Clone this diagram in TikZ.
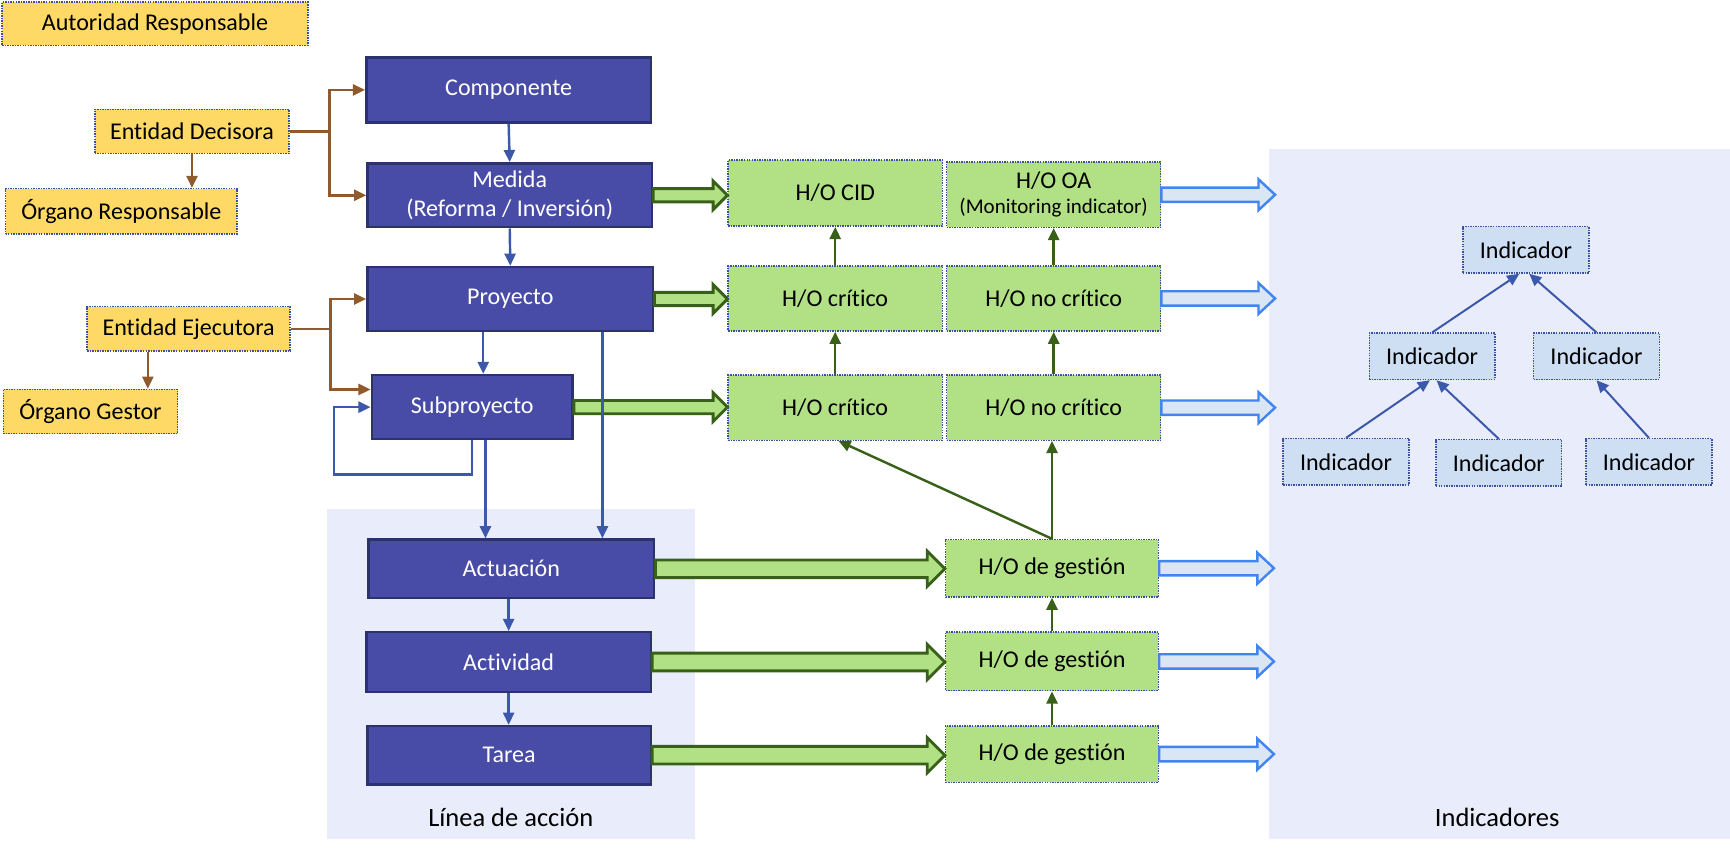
\documentclass[tikz,border=0pt]{standalone}
\usepackage{fontspec}
\setmainfont{Carlito}[Ligatures=NoCommon]
\usetikzlibrary{calc,arrows.meta}
\definecolor{boxblue}{RGB}{73,76,166}
\definecolor{boxblueedge}{RGB}{44,50,110}
\definecolor{linkblue}{RGB}{60,88,170}
\definecolor{dotblue}{RGB}{60,80,160}
\definecolor{yellowfill}{RGB}{255,217,102}
\definecolor{greenfill}{RGB}{178,224,132}
\definecolor{darkgreen}{RGB}{56,96,25}
\definecolor{brownline}{RGB}{145,90,45}
\definecolor{panelfill}{RGB}{233,236,250}
\definecolor{indfill}{RGB}{206,223,244}
\definecolor{fatbluefill}{RGB}{218,230,244}
\definecolor{fatblueedge}{RGB}{66,133,240}
\newcommand\fatarrow[6]{%
  \path (#2) coordinate (fas) (#3) coordinate (fae);
  \draw[#1] ($(fas)+(0,-#4)$) -- ($(fae)+(-#6,-#4)$) -- ($(fae)+(-#6,-#5)$) -- (fae)
    -- ($(fae)+(-#6,#5)$) -- ($(fae)+(-#6,#4)$) -- ($(fas)+(0,#4)$) -- cycle;}
\begin{document}
\begin{tikzpicture}[x=1pt,y=-1pt,
  every node/.style={font=\fontsize{21.8}{26}\selectfont, inner sep=0pt, align=center},
  yelbox/.style={draw=dotblue, densely dotted, line width=1.3pt, fill=yellowfill},
  darkbox/.style={draw=boxblueedge, line width=2.2pt, fill=boxblue, text=white},
  grbox/.style={draw=dotblue, densely dotted, line width=1.3pt, fill=greenfill, minimum width=194pt},
  indbox/.style={draw=dotblue, densely dotted, line width=1.3pt, fill=indfill, minimum width=114pt, minimum height=42pt},
  blink/.style={draw=linkblue, line width=2.2pt, -{Triangle[length=11pt,width=10pt]}},
  brlink/.style={draw=brownline, line width=2.2pt, -{Triangle[length=11pt,width=10pt]}},
  grlink/.style={draw=darkgreen, line width=2.2pt, -{Triangle[length=11pt,width=10pt]}},
  indlink/.style={draw=linkblue, line width=1.8pt, -{Triangle[length=11pt,width=10pt]}},
  fatgreen/.style={draw=darkgreen, line width=2.6pt, fill=greenfill, line join=miter},
  fatblue/.style={draw=fatblueedge, line width=2.2pt, fill=fatbluefill, line join=miter},
  paneltext/.style={font=\fontsize{24}{28}\selectfont}
]
\useasboundingbox (0,0) rectangle (1568,770);
% panels
\fill[panelfill] (296,461) rectangle (630,760);
\fill[panelfill] (1150,135) rectangle (1568,760);
\node[paneltext] (lineaLbl) at (463,741) {Línea de acción};
\node[paneltext] (indLbl) at (1357,741) {Indicadores};

% yellow boxes
\node[yelbox, minimum width=277pt, minimum height=39pt] (autoridad) at (140.5,21.5) {Autoridad Responsable};
\node[yelbox, minimum width=176pt, minimum height=40pt] (decisora) at (174,119) {Entidad Decisora};
\node[yelbox, minimum width=210pt, minimum height=41pt] (orgresp) at (110,191.5) {Órgano Responsable};
\node[yelbox, minimum width=184pt, minimum height=40pt] (ejecutora) at (171,298) {Entidad Ejecutora};
\node[yelbox, minimum width=158pt, minimum height=40pt] (orggestor) at (82,373) {Órgano Gestor};

% dark boxes
\node[darkbox, minimum width=258pt, minimum height=59pt] (componente) at (461,81.5) {Componente};
\node[darkbox, minimum width=258pt, minimum height=58pt] (medida) at (462,177) {Medida\\[1pt](Reforma / Inversión)};
\node[darkbox, minimum width=259pt, minimum height=58pt] (proyecto) at (462.5,271) {Proyecto};
\node[darkbox, minimum width=182pt, minimum height=58pt] (subproyecto) at (428,369) {Subproyecto};
\node[darkbox, minimum width=259pt, minimum height=53pt] (actuacion) at (463.5,515.5) {Actuación};
\node[darkbox, minimum width=258pt, minimum height=54pt] (actividad) at (461,600) {Actividad};
\node[darkbox, minimum width=257pt, minimum height=53pt] (tarea) at (461.5,684.5) {Tarea};

% green boxes
\node[grbox, minimum height=60pt] (cid) at (757,175) {H/O CID};
\node[grbox, minimum height=59pt] (oa) at (955,176.5) {H/O OA\\[-3pt]{\fontsize{19}{22}\selectfont(Monitoring indicator)}};
\node[grbox, minimum height=59pt] (crit1) at (757,270.5) {H/O crítico};
\node[grbox, minimum height=59pt] (nocrit1) at (955,270.5) {H/O no crítico};
\node[grbox, minimum height=59pt] (crit2) at (757,369.5) {H/O crítico};
\node[grbox, minimum height=59pt] (nocrit2) at (955,369.5) {H/O no crítico};
\node[grbox, minimum width=193pt, minimum height=52pt] (gest1) at (953.5,515) {H/O de gestión};
\node[grbox, minimum width=193pt, minimum height=53pt] (gest2) at (953.5,599.5) {H/O de gestión};
\node[grbox, minimum width=193pt, minimum height=51pt] (gest3) at (953.5,683.5) {H/O de gestión};

% indicator boxes
\node[indbox] (indtop) at (1383,226.5) {Indicador};
\node[indbox] (indmidl) at (1298,323) {Indicador};
\node[indbox] (indmidr) at (1447,323) {Indicador};
\node[indbox] (indbotl) at (1220,418.5) {Indicador};
\node[indbox] (indbotm) at (1358.5,419.5) {Indicador};
\node[indbox] (indbotr) at (1494.5,418.5) {Indicador};

% fat green arrows
\fatarrow{fatgreen}{medida.east}{medida.east -| cid.west}{6}{13}{13}
\fatarrow{fatgreen}{proyecto.east}{proyecto.east -| crit1.west}{6}{13}{13}
\fatarrow{fatgreen}{subproyecto.east}{subproyecto.east -| crit2.west}{6}{13}{13}
\fatarrow{fatgreen}{actuacion.east}{actuacion.east -| gest1.west}{8}{16}{16}
\fatarrow{fatgreen}{actividad.east}{actividad.east -| gest2.west}{8}{16}{16}
\fatarrow{fatgreen}{tarea.east}{tarea.east -| gest3.west}{8}{16}{16}

% fat blue arrows
\coordinate (b1) at ([xshift=103pt]oa.east);
\coordinate (b2) at ([xshift=103pt]nocrit1.east);
\coordinate (b3) at ([xshift=103pt]nocrit2.east);
\coordinate (b4) at ([xshift=104pt]gest1.east);
\coordinate (b5) at ([xshift=104pt]gest2.east);
\coordinate (b6) at ([xshift=104pt]gest3.east);
\fatarrow{fatblue}{oa.east}{b1}{6.5}{14}{15}
\fatarrow{fatblue}{nocrit1.east}{b2}{6.5}{14}{15}
\fatarrow{fatblue}{nocrit2.east}{b3}{6.5}{14}{15}
\fatarrow{fatblue}{gest1.east}{b4}{6.5}{14}{15}
\fatarrow{fatblue}{gest2.east}{b5}{6.5}{14}{15}
\fatarrow{fatblue}{gest3.east}{b6}{6.5}{14}{15}

% blue links
\draw[blink] (componente.south) -- (medida.north);
\draw[blink] (medida.south) -- (proyecto.north);
\draw[blink] ([xshift=10pt]subproyecto.north |- proyecto.south) -- ([xshift=10pt]subproyecto.north);
\draw[blink] ([xshift=83.5pt]proyecto.south) -- ([xshift=83.5pt]proyecto.south |- actuacion.north);
\draw[blink] ([xshift=12pt]subproyecto.south) -- ([xshift=12pt]subproyecto.south |- actuacion.north);
\draw[blink] (subproyecto.south) -- ++(0,31) -| ([xshift=-33pt]subproyecto.west) -- (subproyecto.west);
\draw[blink] (actuacion.south -| actividad.north) -- (actividad.north);
\draw[blink] (actividad.south) -- (actividad.south |- tarea.north);

% brown links
\draw[brlink] (decisora.east) -- ++(36,0) |- (componente.west);
\draw[brlink] (decisora.east) -- ++(36,0) |- (medida.west);
\draw[brlink] (decisora.south) -- (decisora.south |- orgresp.north);
\draw[brlink] (ejecutora.east) -- ++(36,0) |- (proyecto.west);
\draw[brlink] (ejecutora.east) -- ++(36,0) |- ([yshift=16pt]subproyecto.west);
\draw[brlink] ([xshift=-37pt]ejecutora.south) -- ([xshift=-37pt]ejecutora.south |- orggestor.north);

% green links
\draw[grlink] (crit1.north) -- (cid.south);
\draw[grlink] (nocrit1.north) -- (oa.south);
\draw[grlink] (crit2.north) -- (crit1.south);
\draw[grlink] (nocrit2.north) -- (nocrit1.south);
\draw[grlink] (gest1.north) -- (gest1.north |- nocrit2.south);
\draw[grlink] (gest1.north) -- ([xshift=3pt]crit2.south);
\draw[grlink] (gest2.north) -- (gest1.south);
\draw[grlink] (gest3.north) -- (gest2.south);

% indicator links
\draw[indlink] (indmidl.north) -- ([xshift=-6pt]indtop.south);
\draw[indlink] (indmidr.north) -- ([xshift=3pt]indtop.south);
\draw[indlink] (indbotl.north) -- ([xshift=-2pt]indmidl.south);
\draw[indlink] (indbotm.north) -- ([xshift=4pt]indmidl.south);
\draw[indlink] (indbotr.north) -- (indmidr.south);
\end{tikzpicture}
\end{document}
